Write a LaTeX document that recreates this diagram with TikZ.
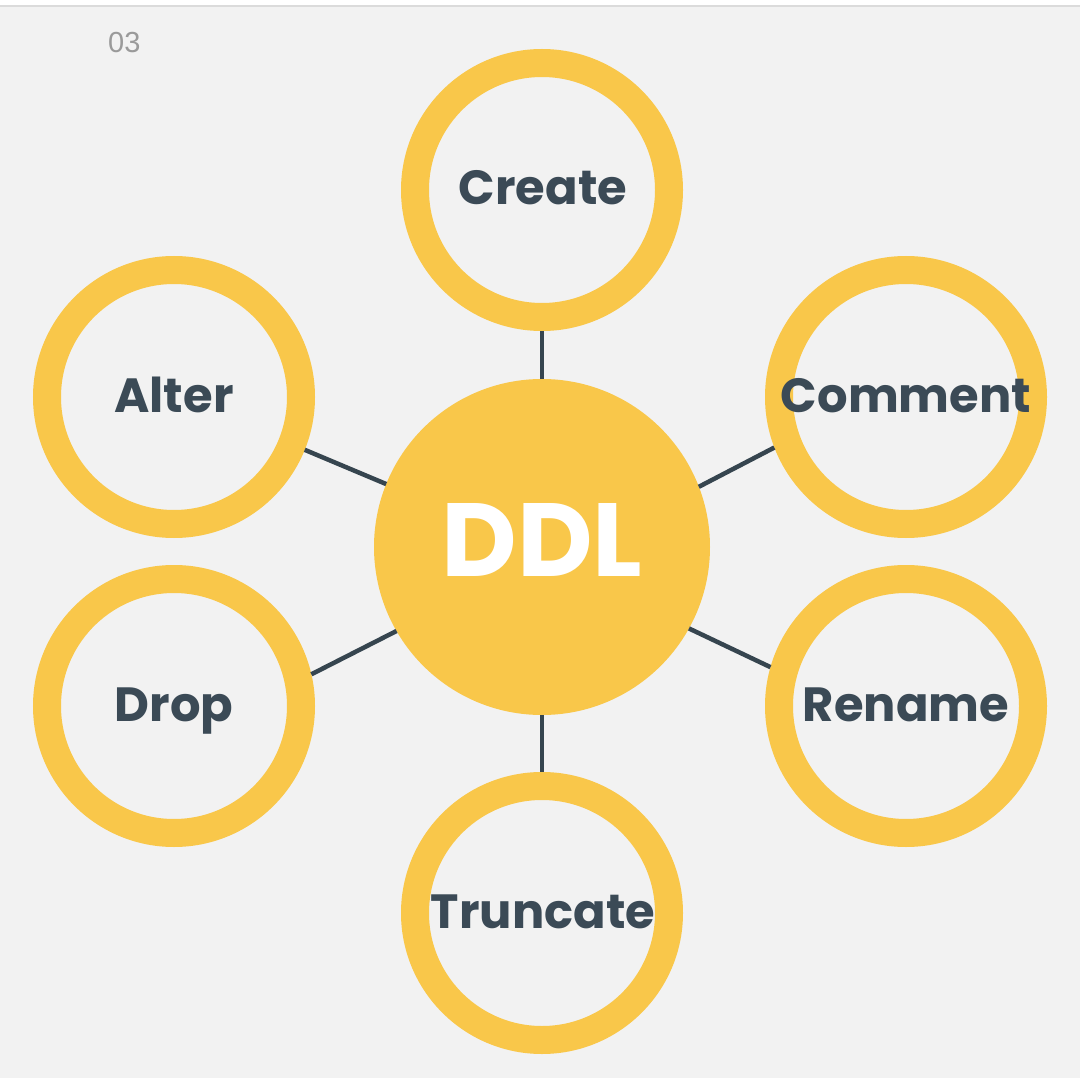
\documentclass[tikz,border=0pt]{standalone}
\usepackage{fontspec}
\setmainfont{Poppins}
\newfontfamily\numfont{Liberation Sans}
\definecolor{bgc}{HTML}{F2F2F2}
\definecolor{ringc}{HTML}{F9C74A}
\definecolor{txtc}{HTML}{3B4A56}
\definecolor{linec}{HTML}{36454F}
\definecolor{numc}{HTML}{9A9A9A}
\tikzset{
  ring/.style={circle, draw=ringc, line width=28pt, minimum size=254pt, inner sep=0pt},
  hub/.style={circle, fill=ringc, minimum size=336pt, inner sep=0pt, outer sep=0pt},
  lbl/.style={anchor=base, text=txtc, font=\fontsize{48}{48}\selectfont\bfseries, inner sep=0pt},
  conn/.style={draw=linec, line width=4.5pt}
}
\begin{document}
\begin{tikzpicture}[x=1pt,y=-1pt]
\useasboundingbox (0,0) rectangle (1080,1078);
\fill[bgc] (-10,-10) rectangle (1090,1090);
\fill[white] (-10,-10) rectangle (1090,5.5);
\draw[line width=1.2pt, draw=black!14] (-10,6) -- (1090,6);
\node[anchor=base west, text=numc, font=\numfont\fontsize{29}{29}\selectfont, inner sep=0pt] (num) at (108,53) {03};
\node[hub] (ddl) at (542,547) {};
\node[anchor=base, text=white, font=\fontsize{104}{104}\selectfont\bfseries, inner sep=0pt] (ddlt) at (542,576) {DDL};
\node[ring] (create) at (542,190) {};
\node[ring] (alter) at (174,397) {};
\node[ring] (comment) at (906,397) {};
\node[ring] (drop) at (174,706) {};
\node[ring] (rename) at (906,706) {};
\node[ring] (trunc) at (542,913) {};
\node[lbl] (createt) at (543,205) {Create};
\node[lbl] (altert) at (174,412) {Alter};
\node[lbl] (commentt) at (906,412) {Comment};
\node[lbl] (dropt) at (174,721) {Drop};
\node[lbl] (renamet) at (906,721) {Rename};
\node[lbl] (trunct) at (543,928) {Truncate};
\draw[conn] (ddl.90) -- (create.270);
\draw[conn] (ddl.270) -- (trunc.90);
\draw[conn] (ddl.158.3) -- (alter.338.8);
\draw[conn] (ddl.21.4) -- (comment.201.5);
\draw[conn] (ddl.210.2) -- (drop.13.5);
\draw[conn] (ddl.331) -- (rename.164.4);
\end{tikzpicture}
\end{document}
